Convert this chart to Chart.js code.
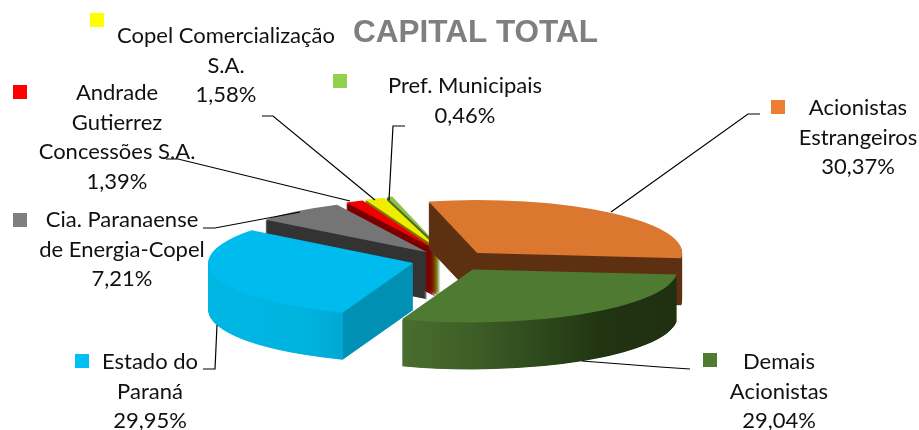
<!DOCTYPE html>
<html><head><meta charset="utf-8">
<script src="https://cdn.jsdelivr.net/npm/chart.js@4"></script>
<style>html,body{margin:0;padding:0;background:#fff}#w{width:919px;height:430px;position:relative}</style>
</head><body><div id="w"><canvas id="c" width="919" height="430"></canvas></div>
<script>
const categories = ["Acionistas Estrangeiros","Demais Acionistas","Estado do Paraná","Cia. Paranaense de Energia-Copel","Andrade Gutierrez Concessões S.A.","Copel Comercialização S.A.","Pref. Municipais"];
const shares = [30.37,29.04,29.95,7.21,1.39,1.58,0.46];
const shareLabels = ["30,37%","29,04%","29,95%","7,21%","1,39%","1,58%","0,46%"];
const topColors = ["#DC772F","#4E7A31","#00BBEE","#757575","#F00000","#EEEE00","#8FBF4C"];
const markerColors = ["#ED7D31","#4E7A31","#00BFF3","#7F7F7F","#FF0000","#FFFF00","#92D050"];
const explode = [49,52,33,28.5,22,20,17];
const labelLines = [["Acionistas","Estrangeiros"],["Demais","Acionistas"],["Estado do","Paraná"],["Cia. Paranaense","de Energia-Copel"],["Andrade","Gutierrez","Concessões S.A."],["Copel Comercialização","S.A."],["Pref. Municipais"]];

const CX=445, CY=258, K=0.2585, DEPTH=47, R=205;
const yNudge=[4.5,0,2.6,0,-2.8,-4,-5.7];
const drawOrder=[6,5,4,3,0,2,1];
// [screen x, colour] stops for the extruded walls/cuts
const sideStops=[
 [[420,"#5E3012"],[690,"#5E3012"]],
 [[402,"#4A6E2E"],[470,"#3E5E27"],[540,"#2E4A1C"],[600,"#213412"],[680,"#1F3010"]],
 [[208,"#00B6E2"],[300,"#00B4E0"],[342.9,"#00A8D4"],[343,"#0090B4"],[415,"#0090B4"]],
 [[260,"#333333"],[430,"#333333"]],
 [[340,"#7A0000"],[440,"#7A0000"]],
 [[360,"#777700"],[445,"#777700"]],
 [[380,"#4F6B22"],[445,"#4F6B22"]]
];
const labelPos=[
 {x:858,y:115},{x:779,y:369},{x:150,y:369},{x:122,y:227},{x:117,y:100},{x:226,y:43},{x:465,y:93}
];
const markerPos=[[771,100],[703,353],[75,354],[13,213],[13,85],[90,13],[333,74]];
const leaders=[
 [[760,114],[748,114],[611,212]],
 [[582,361],[660,367],[690,369]],
 [[203,369],[215,369],[217,325]],
 [[203,228],[215,228],[300,212]],
 [[166,159],[178,159],[350,201]],
 [[262,116],[273,116],[375,200]],
 [[405,126],[393,126],[389,200]]
];

const pie3d={
 id:'pie3d',
 beforeDatasetsDraw(chart){
  const ctx=chart.ctx, meta=chart.getDatasetMeta(0);
  for(const i of drawOrder){
   const el=meta.data[i], orig=el.options;
   const mid=(el.startAngle+el.endAngle)/2;
   const ex=CX+Math.cos(mid)*explode[i];
   const ey=CY+Math.sin(mid)*explode[i]*K+yNudge[i];
   const stops=sideStops[i], a=stops[0][0], b=stops[stops.length-1][0];
   const g=ctx.createLinearGradient(a-ex+el.x,0,b-ex+el.x,0);
   for(const [x,c] of stops) g.addColorStop((x-a)/(b-a),c);
   const place=d=>{ctx.save();ctx.translate(ex,ey+d);ctx.scale(1,K);ctx.translate(-el.x,-el.y);el.draw(ctx);ctx.restore();};
   el.options=Object.assign({},orig,{backgroundColor:g,borderWidth:0,offset:0});
   for(let d=DEPTH;d>=1;d-=0.5) place(d);
   el.options=Object.assign({},orig,{backgroundColor:topColors[i],borderWidth:0,offset:0});
   place(0);
   el.options=orig;
  }
  ctx.save();
  ctx.strokeStyle="#000"; ctx.lineWidth=1.2;
  for(const l of leaders){ctx.beginPath();l.forEach((p,j)=>j?ctx.lineTo(p[0],p[1]):ctx.moveTo(p[0],p[1]));ctx.stroke();}
  ctx.fillStyle="#111"; ctx.textAlign="center"; ctx.textBaseline="alphabetic";
  ctx.font='22px Lato';
  categories.forEach((c,i)=>{
   const lines=[...labelLines[i],shareLabels[i]], p=labelPos[i];
   lines.forEach((t,j)=>ctx.fillText(t,p.x,p.y+j*29.5));
   ctx.save();ctx.fillStyle=markerColors[i];ctx.fillRect(markerPos[i][0],markerPos[i][1],14,14);ctx.restore();
  });
  ctx.restore();
  return false;
 }
};
new Chart(document.getElementById('c'),{
 type:'pie',
 data:{labels:categories,datasets:[{data:shares,backgroundColor:topColors,borderWidth:0,radius:R}]},
 options:{
  responsive:false,animation:false,rotation:-13.7,radius:R,
  layout:{padding:{left:32}},
  plugins:{legend:{display:false},tooltip:{enabled:false},
   title:{display:true,text:"CAPITAL TOTAL",color:"#7F7F7F",font:{family:"'Liberation Sans'",size:31.5,weight:'bold'},padding:{top:14,bottom:0}}}
 },
 plugins:[pie3d]
});
</script></body></html>
